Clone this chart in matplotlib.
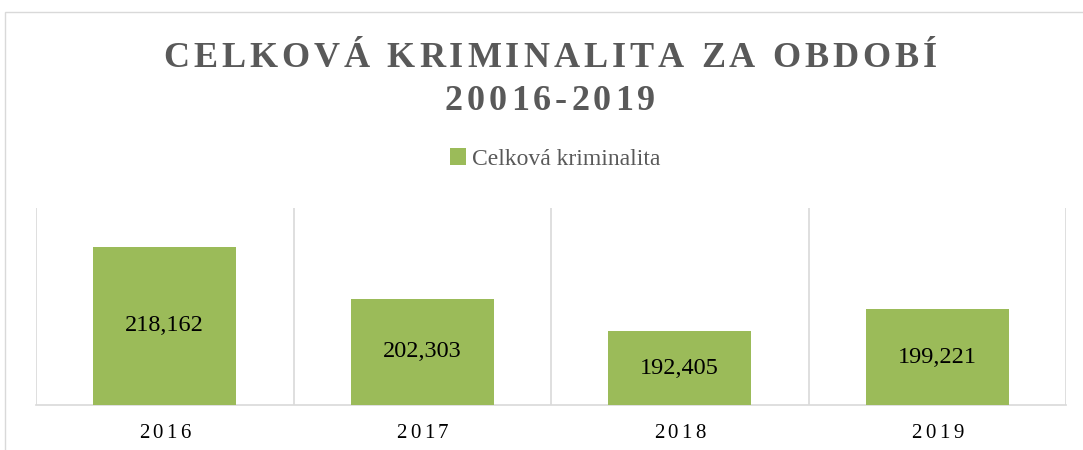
import numpy as np
import matplotlib
matplotlib.use('Agg')
import matplotlib.pyplot as plt
from matplotlib.transforms import IdentityTransform
from matplotlib.patches import Rectangle

years = ['2016', '2017', '2018', '2019']
crimes = [218162, 202303, 192405, 199221]
title_lines = ['CELKOVÁ KRIMINALITA ZA OBDOBÍ', '20016-2019']
series_name = 'Celková kriminalita'

W, H = 1083, 450
SERIF = 'Liberation Serif'
GREEN = '#9BBB59'
GRID = '#D9D9D9'
GRAY = '#595959'

fig = plt.figure(figsize=(W / 100, H / 100), dpi=100)
renderer = fig.canvas.get_renderer()


def text_width(s, **kw):
    t = fig.text(0, 0, s, transform=IdentityTransform(), **kw)
    w = t.get_window_extent(renderer).width
    t.remove()
    return w


def spaced_text(s, xc, y_base, gap, **kw):
    # draw text letter by letter with extra spacing (x, y in pixels from top-left)
    hh = text_width('HH', **kw)
    adv = [text_width('H' + c + 'H', **kw) - hh for c in s]
    total = sum(adv) + gap * (len(s) - 1)
    x = xc - total / 2
    for c, a in zip(s, adv):
        fig.text(x, H - y_base, c, transform=IdentityTransform(),
                 ha='left', va='baseline', **kw)
        x += a + gap


# outer chart border
fig.add_artist(Rectangle((4.5, -10), 1100, H - 11.5 + 10, transform=IdentityTransform(),
                         fill=False, edgecolor=GRID, lw=1))

ax = fig.add_axes([36 / W, 1 - 405 / H, (1066 - 36) / W, (405 - 208) / H])
x = np.arange(len(years))
bars = ax.bar(x, crimes, width=0.556, color=GREEN, zorder=3, label=series_name)
ax.set_xlim(-0.5, len(years) - 0.5)
ax.set_ylim(170000, 230000)

ax.set_xticks([])
ax.set_yticks([])
ax.set_xticks(np.arange(-0.5, len(years)), minor=True)
ax.tick_params(which='both', length=0)
ax.grid(axis='x', which='minor', color=GRID, lw=1.2, zorder=0)
for s in ['top', 'left', 'right']:
    ax.spines[s].set_visible(False)
ax.spines['bottom'].set_color(GRID)
ax.spines['bottom'].set_linewidth(1.2)

lo = ax.get_ylim()[0]
for xi, v in zip(x, crimes):
    ax.text(xi, (lo + v) / 2, f'{v:,}', ha='center', va='center',
            fontsize=17.5, family=SERIF, color='black', zorder=4)

# category labels with letter spacing
for xi, lab in zip(x, years):
    xd = ax.transData.transform((xi, lo))[0]
    spaced_text(lab, xd, 438, 3.5, fontsize=15, family=SERIF, color='black')

# title
spaced_text(title_lines[0], 550, 67, 4, fontsize=26, family=SERIF,
            weight='bold', color=GRAY)
spaced_text(title_lines[1], 550, 110, 4, fontsize=26, family=SERIF,
            weight='bold', color=GRAY)

fig.legend(handles=[bars], labels=[series_name], loc='center',
           bbox_to_anchor=(555 / W, 1 - 159 / H), frameon=False,
           handlelength=0.7, handleheight=0.7, handletextpad=0.25,
           prop={'family': SERIF, 'size': 17}, labelcolor=GRAY)

fig.savefig('out.png', dpi=100)
